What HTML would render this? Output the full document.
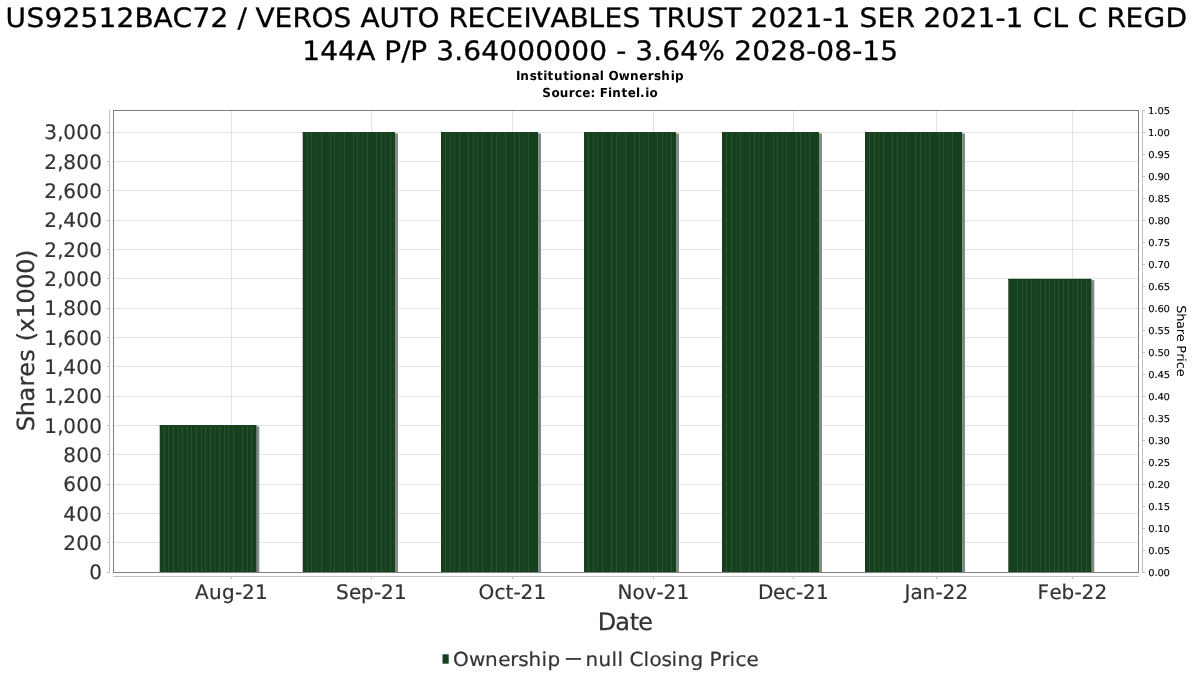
<!DOCTYPE html>
<html lang="en"><head><meta charset="utf-8"><title>US92512BAC72 / VEROS AUTO RECEIVABLES TRUST 2021-1 - Institutional Ownership</title>
<style>html,body{margin:0;padding:0;background:#fff;}body{width:1200px;height:675px;overflow:hidden;}svg{display:block;}text{font-family:"DejaVu Sans", "Liberation Sans", sans-serif;white-space:pre;text-rendering:geometricPrecision;}</style>
</head><body>
<svg width="1200" height="675" viewBox="0 0 1200 675" role="img" aria-label="Institutional ownership bar chart">
<rect x="0" y="0" width="1200" height="675" fill="#ffffff"/>
<text transform="translate(5.47,26.75) scale(1,0.95)" x="0.00 21.00 39.00 57.00 75.00 93.00 111.00 129.00 148.00 167.00 187.00 205.00 223.00 232.00 241.00 250.00 269.00 287.00 306.00 328.00 346.00 355.00 374.00 395.00 412.00 434.00 443.00 462.00 480.00 500.00 518.00 526.00 545.00 564.00 583.00 599.00 617.00 635.00 644.00 661.00 680.00 701.00 719.00 736.00 745.00 763.00 781.00 799.00 817.00 827.00 845.00 854.00 872.00 890.00 909.00 918.00 936.00 954.00 972.00 990.00 1000.00 1018.00 1027.00 1047.00 1063.00 1072.00 1092.00 1101.00 1120.00 1138.00 1160.00" y="0" font-size="28" fill="#000" stroke="#000" stroke-width="0.35">US92512BAC72 / VEROS AUTO RECEIVABLES TRUST 2021-1 SER 2021-1 CL C REGD</text>
<text transform="translate(302.32,59.75) scale(1,0.95)" x="0.00 18.00 36.00 54.00 73.00 82.00 99.00 108.00 125.00 134.00 152.00 161.00 179.00 197.00 215.00 233.00 251.00 269.00 287.00 305.00 314.00 324.00 333.00 351.00 360.00 378.00 396.00 423.00 432.00 450.00 468.00 486.00 504.00 514.00 532.00 550.00 560.00 578.00" y="0" font-size="28" fill="#000" stroke="#000" stroke-width="0.35">144A P/P 3.64000000 - 3.64% 2028-08-15</text>
<text transform="translate(516.00,80.20) scale(1,1.04)" x="0.00 4.32 13.63 20.95 27.26 31.58 37.89 47.21 53.52 57.84 66.15 75.47 83.79 88.10 92.42 102.73 114.05 123.36 131.68 137.99 145.31 154.63 158.94" y="0" font-size="12" fill="#000" font-weight="bold">Institutional Ownership</text>
<text transform="translate(542.24,96.80) scale(1,1.04)" x="0.00 9.20 17.41 26.61 32.82 40.02 48.23 53.43 57.64 65.84 70.05 79.25 85.46 93.66 97.87 103.07 107.28" y="0" font-size="12" fill="#000" font-weight="bold">Source: Fintel.io</text>
<g fill="#e2e2e2">
<rect x="114" y="542" width="1024" height="1"/>
<rect x="114" y="513" width="1024" height="1"/>
<rect x="114" y="484" width="1024" height="1"/>
<rect x="114" y="454" width="1024" height="1"/>
<rect x="114" y="425" width="1024" height="1"/>
<rect x="114" y="396" width="1024" height="1"/>
<rect x="114" y="366" width="1024" height="1"/>
<rect x="114" y="337" width="1024" height="1"/>
<rect x="114" y="308" width="1024" height="1"/>
<rect x="114" y="278" width="1024" height="1"/>
<rect x="114" y="249" width="1024" height="1"/>
<rect x="114" y="220" width="1024" height="1"/>
<rect x="114" y="190" width="1024" height="1"/>
<rect x="114" y="161" width="1024" height="1"/>
<rect x="114" y="132" width="1024" height="1"/>
<rect x="231" y="111" width="1" height="461"/>
<rect x="371" y="111" width="1" height="461"/>
<rect x="512" y="111" width="1" height="461"/>
<rect x="653" y="111" width="1" height="461"/>
<rect x="793" y="111" width="1" height="461"/>
<rect x="936" y="111" width="1" height="461"/>
<rect x="1072" y="111" width="1" height="461"/>
</g>
<rect x="255.3" y="426.4" width="4" height="145.6" fill="#888888"/>
<rect x="159.7" y="425.1" width="96.6" height="147.2" fill="#16411f"/>
<rect x="159.7" y="425.4" width="96.6" height="1" fill="#0f3c18"/>
<g fill="#295133">
<rect x="164" y="425.5" width="1" height="146.5"/>
<rect x="168" y="425.5" width="1" height="146.5"/>
<rect x="173" y="425.5" width="1" height="146.5"/>
<rect x="178" y="425.5" width="1" height="146.5" fill="#1e4728"/>
<rect x="182" y="425.5" width="1" height="146.5"/>
<rect x="187" y="425.5" width="1" height="146.5"/>
<rect x="191" y="425.5" width="1" height="146.5"/>
<rect x="196" y="425.5" width="1" height="146.5"/>
<rect x="201" y="425.5" width="1" height="146.5"/>
<rect x="205" y="425.5" width="1" height="146.5"/>
<rect x="210" y="425.5" width="1" height="146.5"/>
<rect x="215" y="425.5" width="1" height="146.5" fill="#1e4728"/>
<rect x="219" y="425.5" width="1" height="146.5"/>
<rect x="224" y="425.5" width="1" height="146.5"/>
<rect x="228" y="425.5" width="1" height="146.5"/>
<rect x="233" y="425.5" width="1" height="146.5"/>
<rect x="242" y="425.5" width="1" height="146.5"/>
<rect x="247" y="425.5" width="1" height="146.5"/>
<rect x="251" y="425.5" width="1" height="146.5"/>
</g>
<rect x="394" y="133.45" width="4" height="438.55" fill="#888888"/>
<rect x="302.7" y="132.15" width="92.3" height="440.15" fill="#16411f"/>
<rect x="302.7" y="132.45" width="92.3" height="1" fill="#0f3c18"/>
<g fill="#295133">
<rect x="307" y="132.55" width="1" height="439.45"/>
<rect x="311" y="132.55" width="1" height="439.45"/>
<rect x="316" y="132.55" width="1" height="439.45" fill="#1e4728"/>
<rect x="321" y="132.55" width="1" height="439.45"/>
<rect x="330" y="132.55" width="1" height="439.45"/>
<rect x="334" y="132.55" width="1" height="439.45"/>
<rect x="339" y="132.55" width="1" height="439.45" fill="#1e4728"/>
<rect x="344" y="132.55" width="1" height="439.45"/>
<rect x="353" y="132.55" width="1" height="439.45"/>
<rect x="357" y="132.55" width="1" height="439.45"/>
<rect x="362" y="132.55" width="1" height="439.45" fill="#1e4728"/>
<rect x="367" y="132.55" width="1" height="439.45"/>
<rect x="376" y="132.55" width="1" height="439.45"/>
<rect x="381" y="132.55" width="1" height="439.45"/>
<rect x="385" y="132.55" width="1" height="439.45" fill="#1e4728"/>
<rect x="390" y="132.55" width="1" height="439.45"/>
</g>
<rect x="537" y="133.45" width="4" height="438.55" fill="#888888"/>
<rect x="441" y="132.15" width="97" height="440.15" fill="#16411f"/>
<rect x="441" y="132.45" width="97" height="1" fill="#0f3c18"/>
<g fill="#295133">
<rect x="445" y="132.55" width="1" height="439.45"/>
<rect x="450" y="132.55" width="1" height="439.45"/>
<rect x="454" y="132.55" width="1" height="439.45" fill="#1e4728"/>
<rect x="459" y="132.55" width="1" height="439.45"/>
<rect x="468" y="132.55" width="1" height="439.45"/>
<rect x="473" y="132.55" width="1" height="439.45"/>
<rect x="477" y="132.55" width="1" height="439.45" fill="#1e4728"/>
<rect x="482" y="132.55" width="1" height="439.45"/>
<rect x="491" y="132.55" width="1" height="439.45"/>
<rect x="496" y="132.55" width="1" height="439.45"/>
<rect x="500" y="132.55" width="1" height="439.45" fill="#1e4728"/>
<rect x="505" y="132.55" width="1" height="439.45"/>
<rect x="514" y="132.55" width="1" height="439.45"/>
<rect x="519" y="132.55" width="1" height="439.45"/>
<rect x="523" y="132.55" width="1" height="439.45" fill="#1e4728"/>
<rect x="528" y="132.55" width="1" height="439.45"/>
</g>
<rect x="675" y="133.45" width="4" height="438.55" fill="#888888"/>
<rect x="584" y="132.15" width="92" height="440.15" fill="#16411f"/>
<rect x="584" y="132.45" width="92" height="1" fill="#0f3c18"/>
<g fill="#295133">
<rect x="588" y="132.55" width="1" height="439.45"/>
<rect x="593" y="132.55" width="1" height="439.45"/>
<rect x="597" y="132.55" width="1" height="439.45" fill="#1e4728"/>
<rect x="602" y="132.55" width="1" height="439.45"/>
<rect x="611" y="132.55" width="1" height="439.45"/>
<rect x="616" y="132.55" width="1" height="439.45"/>
<rect x="620" y="132.55" width="1" height="439.45" fill="#1e4728"/>
<rect x="625" y="132.55" width="1" height="439.45"/>
<rect x="634" y="132.55" width="1" height="439.45"/>
<rect x="639" y="132.55" width="1" height="439.45"/>
<rect x="643" y="132.55" width="1" height="439.45" fill="#1e4728"/>
<rect x="648" y="132.55" width="1" height="439.45"/>
<rect x="657" y="132.55" width="1" height="439.45"/>
<rect x="662" y="132.55" width="1" height="439.45"/>
<rect x="666" y="132.55" width="1" height="439.45" fill="#1e4728"/>
<rect x="671" y="132.55" width="1" height="439.45"/>
</g>
<rect x="818" y="133.45" width="4" height="438.55" fill="#888888"/>
<rect x="722" y="132.15" width="97" height="440.15" fill="#16411f"/>
<rect x="722" y="132.45" width="97" height="1" fill="#0f3c18"/>
<g fill="#295133">
<rect x="726" y="132.55" width="1" height="439.45"/>
<rect x="731" y="132.55" width="1" height="439.45"/>
<rect x="736" y="132.55" width="1" height="439.45" fill="#1e4728"/>
<rect x="740" y="132.55" width="1" height="439.45"/>
<rect x="749" y="132.55" width="1" height="439.45"/>
<rect x="754" y="132.55" width="1" height="439.45"/>
<rect x="759" y="132.55" width="1" height="439.45" fill="#1e4728"/>
<rect x="763" y="132.55" width="1" height="439.45"/>
<rect x="773" y="132.55" width="1" height="439.45"/>
<rect x="777" y="132.55" width="1" height="439.45"/>
<rect x="782" y="132.55" width="1" height="439.45" fill="#1e4728"/>
<rect x="786" y="132.55" width="1" height="439.45"/>
<rect x="796" y="132.55" width="1" height="439.45"/>
<rect x="800" y="132.55" width="1" height="439.45"/>
<rect x="805" y="132.55" width="1" height="439.45" fill="#1e4728"/>
<rect x="809" y="132.55" width="1" height="439.45"/>
</g>
<rect x="961" y="133.45" width="4" height="438.55" fill="#888888"/>
<rect x="865" y="132.15" width="97" height="440.15" fill="#16411f"/>
<rect x="865" y="132.45" width="97" height="1" fill="#0f3c18"/>
<g fill="#295133">
<rect x="869" y="132.55" width="1" height="439.45"/>
<rect x="874" y="132.55" width="1" height="439.45"/>
<rect x="879" y="132.55" width="1" height="439.45" fill="#1e4728"/>
<rect x="883" y="132.55" width="1" height="439.45"/>
<rect x="892" y="132.55" width="1" height="439.45"/>
<rect x="897" y="132.55" width="1" height="439.45"/>
<rect x="902" y="132.55" width="1" height="439.45" fill="#1e4728"/>
<rect x="906" y="132.55" width="1" height="439.45"/>
<rect x="915" y="132.55" width="1" height="439.45"/>
<rect x="920" y="132.55" width="1" height="439.45"/>
<rect x="925" y="132.55" width="1" height="439.45" fill="#1e4728"/>
<rect x="929" y="132.55" width="1" height="439.45"/>
<rect x="939" y="132.55" width="1" height="439.45"/>
<rect x="943" y="132.55" width="1" height="439.45"/>
<rect x="948" y="132.55" width="1" height="439.45" fill="#1e4728"/>
<rect x="952" y="132.55" width="1" height="439.45"/>
</g>
<rect x="1090.3" y="280.1" width="4" height="291.9" fill="#888888"/>
<rect x="1008.3" y="278.8" width="83" height="293.5" fill="#16411f"/>
<rect x="1008.3" y="279.1" width="83" height="1" fill="#0f3c18"/>
<g fill="#295133">
<rect x="1017" y="279.2" width="1" height="292.8"/>
<rect x="1022" y="279.2" width="1" height="292.8"/>
<rect x="1026" y="279.2" width="1" height="292.8"/>
<rect x="1031" y="279.2" width="1" height="292.8"/>
<rect x="1035" y="279.2" width="1" height="292.8" fill="#1e4728"/>
<rect x="1040" y="279.2" width="1" height="292.8"/>
<rect x="1045" y="279.2" width="1" height="292.8"/>
<rect x="1049" y="279.2" width="1" height="292.8"/>
<rect x="1054" y="279.2" width="1" height="292.8"/>
<rect x="1058" y="279.2" width="1" height="292.8"/>
<rect x="1063" y="279.2" width="1" height="292.8"/>
<rect x="1068" y="279.2" width="1" height="292.8"/>
<rect x="1072" y="279.2" width="1" height="292.8" fill="#1e4728"/>
<rect x="1077" y="279.2" width="1" height="292.8"/>
<rect x="1081" y="279.2" width="1" height="292.8"/>
<rect x="1086" y="279.2" width="1" height="292.8"/>
</g>
<rect x="113.5" y="110.5" width="1025" height="462" fill="none" stroke="#7f7f7f" stroke-width="1"/>
<g fill="#c0c0c0">
<rect x="109" y="110" width="1" height="463"/>
<rect x="113" y="576" width="1026" height="1"/>
<rect x="1142" y="110" width="1" height="463"/>
<rect x="107" y="572" width="2" height="1"/>
<rect x="107" y="542" width="2" height="1"/>
<rect x="107" y="513" width="2" height="1"/>
<rect x="107" y="484" width="2" height="1"/>
<rect x="107" y="454" width="2" height="1"/>
<rect x="107" y="425" width="2" height="1"/>
<rect x="107" y="396" width="2" height="1"/>
<rect x="107" y="366" width="2" height="1"/>
<rect x="107" y="337" width="2" height="1"/>
<rect x="107" y="308" width="2" height="1"/>
<rect x="107" y="278" width="2" height="1"/>
<rect x="107" y="249" width="2" height="1"/>
<rect x="107" y="220" width="2" height="1"/>
<rect x="107" y="190" width="2" height="1"/>
<rect x="107" y="161" width="2" height="1"/>
<rect x="107" y="132" width="2" height="1"/>
<rect x="231" y="577" width="1" height="2"/>
<rect x="371" y="577" width="1" height="2"/>
<rect x="512" y="577" width="1" height="2"/>
<rect x="653" y="577" width="1" height="2"/>
<rect x="793" y="577" width="1" height="2"/>
<rect x="936" y="577" width="1" height="2"/>
<rect x="1072" y="577" width="1" height="2"/>
<rect x="1143" y="572" width="2" height="1"/>
<rect x="1143" y="550" width="2" height="1"/>
<rect x="1143" y="528" width="2" height="1"/>
<rect x="1143" y="506" width="2" height="1"/>
<rect x="1143" y="484" width="2" height="1"/>
<rect x="1143" y="462" width="2" height="1"/>
<rect x="1143" y="440" width="2" height="1"/>
<rect x="1143" y="418" width="2" height="1"/>
<rect x="1143" y="396" width="2" height="1"/>
<rect x="1143" y="374" width="2" height="1"/>
<rect x="1143" y="352" width="2" height="1"/>
<rect x="1143" y="330" width="2" height="1"/>
<rect x="1143" y="308" width="2" height="1"/>
<rect x="1143" y="286" width="2" height="1"/>
<rect x="1143" y="264" width="2" height="1"/>
<rect x="1143" y="242" width="2" height="1"/>
<rect x="1143" y="220" width="2" height="1"/>
<rect x="1143" y="198" width="2" height="1"/>
<rect x="1143" y="176" width="2" height="1"/>
<rect x="1143" y="154" width="2" height="1"/>
<rect x="1143" y="132" width="2" height="1"/>
<rect x="1143" y="110" width="2" height="1"/>
</g>
<text transform="translate(89.33,578.70)" x="0.00" y="0" font-size="20" fill="#333333" stroke="#333333" stroke-width="0.2">0</text>
<text transform="translate(63.33,549.70)" x="0.00 13.00 26.00" y="0" font-size="20" fill="#333333" stroke="#333333" stroke-width="0.2">200</text>
<text transform="translate(63.33,520.70)" x="0.00 13.00 26.00" y="0" font-size="20" fill="#333333" stroke="#333333" stroke-width="0.2">400</text>
<text transform="translate(63.33,490.70)" x="0.00 13.00 26.00" y="0" font-size="20" fill="#333333" stroke="#333333" stroke-width="0.2">600</text>
<text transform="translate(63.33,461.70)" x="0.00 13.00 26.00" y="0" font-size="20" fill="#333333" stroke="#333333" stroke-width="0.2">800</text>
<text transform="translate(44.33,432.70)" x="0.00 13.00 19.00 32.00 45.00" y="0" font-size="20" fill="#333333" stroke="#333333" stroke-width="0.2">1,000</text>
<text transform="translate(44.33,402.70)" x="0.00 13.00 19.00 32.00 45.00" y="0" font-size="20" fill="#333333" stroke="#333333" stroke-width="0.2">1,200</text>
<text transform="translate(44.33,373.70)" x="0.00 13.00 19.00 32.00 45.00" y="0" font-size="20" fill="#333333" stroke="#333333" stroke-width="0.2">1,400</text>
<text transform="translate(44.33,344.70)" x="0.00 13.00 19.00 32.00 45.00" y="0" font-size="20" fill="#333333" stroke="#333333" stroke-width="0.2">1,600</text>
<text transform="translate(44.33,314.70)" x="0.00 13.00 19.00 32.00 45.00" y="0" font-size="20" fill="#333333" stroke="#333333" stroke-width="0.2">1,800</text>
<text transform="translate(44.33,285.70)" x="0.00 13.00 19.00 32.00 45.00" y="0" font-size="20" fill="#333333" stroke="#333333" stroke-width="0.2">2,000</text>
<text transform="translate(44.33,256.70)" x="0.00 13.00 19.00 32.00 45.00" y="0" font-size="20" fill="#333333" stroke="#333333" stroke-width="0.2">2,200</text>
<text transform="translate(44.33,226.70)" x="0.00 13.00 19.00 32.00 45.00" y="0" font-size="20" fill="#333333" stroke="#333333" stroke-width="0.2">2,400</text>
<text transform="translate(44.33,197.70)" x="0.00 13.00 19.00 32.00 45.00" y="0" font-size="20" fill="#333333" stroke="#333333" stroke-width="0.2">2,600</text>
<text transform="translate(44.33,168.70)" x="0.00 13.00 19.00 32.00 45.00" y="0" font-size="20" fill="#333333" stroke="#333333" stroke-width="0.2">2,800</text>
<text transform="translate(44.33,138.70)" x="0.00 13.00 19.00 32.00 45.00" y="0" font-size="20" fill="#333333" stroke="#333333" stroke-width="0.2">3,000</text>
<text transform="translate(195.00,598.90)" x="0.00 14.00 27.00 40.00 47.00 60.00" y="0" font-size="20" fill="#333333" stroke="#333333" stroke-width="0.2">Aug-21</text>
<text transform="translate(336.00,598.90)" x="0.00 13.00 25.00 38.00 45.00 58.00" y="0" font-size="20" fill="#333333" stroke="#333333" stroke-width="0.2">Sep-21</text>
<text transform="translate(478.50,598.90)" x="0.00 16.00 27.00 35.00 42.00 55.00" y="0" font-size="20" fill="#333333" stroke="#333333" stroke-width="0.2">Oct-21</text>
<text transform="translate(617.50,598.90)" x="0.00 15.00 27.00 39.00 46.00 59.00" y="0" font-size="20" fill="#333333" stroke="#333333" stroke-width="0.2">Nov-21</text>
<text transform="translate(758.00,598.90)" x="0.00 15.00 27.00 38.00 45.00 58.00" y="0" font-size="20" fill="#333333" stroke="#333333" stroke-width="0.2">Dec-21</text>
<text transform="translate(904.50,598.90)" x="0.00 6.00 18.00 31.00 38.00 51.00" y="0" font-size="20" fill="#333333" stroke="#333333" stroke-width="0.2">Jan-22</text>
<text transform="translate(1037.50,598.90)" x="0.00 12.00 24.00 37.00 44.00 57.00" y="0" font-size="20" fill="#333333" stroke="#333333" stroke-width="0.2">Feb-22</text>
<text transform="translate(1148.34,576.00) scale(1,0.95)" x="0.00 6.07 9.15 15.22" y="0" font-size="10" fill="#000" stroke="#000" stroke-width="0.12">0.00</text>
<text transform="translate(1148.34,554.00) scale(1,0.95)" x="0.00 6.14 9.29 15.43" y="0" font-size="10" fill="#000" stroke="#000" stroke-width="0.12">0.05</text>
<text transform="translate(1148.34,532.00) scale(1,0.95)" x="0.00 6.07 9.15 15.22" y="0" font-size="10" fill="#000" stroke="#000" stroke-width="0.12">0.10</text>
<text transform="translate(1148.34,510.00) scale(1,0.95)" x="0.00 6.14 9.29 15.43" y="0" font-size="10" fill="#000" stroke="#000" stroke-width="0.12">0.15</text>
<text transform="translate(1148.34,488.00) scale(1,0.95)" x="0.00 6.07 9.15 15.22" y="0" font-size="10" fill="#000" stroke="#000" stroke-width="0.12">0.20</text>
<text transform="translate(1148.34,466.00) scale(1,0.95)" x="0.00 6.14 9.29 15.43" y="0" font-size="10" fill="#000" stroke="#000" stroke-width="0.12">0.25</text>
<text transform="translate(1148.34,444.00) scale(1,0.95)" x="0.00 6.07 9.15 15.22" y="0" font-size="10" fill="#000" stroke="#000" stroke-width="0.12">0.30</text>
<text transform="translate(1148.34,422.00) scale(1,0.95)" x="0.00 6.14 9.29 15.43" y="0" font-size="10" fill="#000" stroke="#000" stroke-width="0.12">0.35</text>
<text transform="translate(1148.34,400.00) scale(1,0.95)" x="0.00 6.07 9.15 15.22" y="0" font-size="10" fill="#000" stroke="#000" stroke-width="0.12">0.40</text>
<text transform="translate(1148.34,378.00) scale(1,0.95)" x="0.00 6.14 9.29 15.43" y="0" font-size="10" fill="#000" stroke="#000" stroke-width="0.12">0.45</text>
<text transform="translate(1148.34,356.00) scale(1,0.95)" x="0.00 6.07 9.15 15.22" y="0" font-size="10" fill="#000" stroke="#000" stroke-width="0.12">0.50</text>
<text transform="translate(1148.34,334.00) scale(1,0.95)" x="0.00 6.14 9.29 15.43" y="0" font-size="10" fill="#000" stroke="#000" stroke-width="0.12">0.55</text>
<text transform="translate(1148.34,312.00) scale(1,0.95)" x="0.00 6.07 9.15 15.22" y="0" font-size="10" fill="#000" stroke="#000" stroke-width="0.12">0.60</text>
<text transform="translate(1148.34,290.00) scale(1,0.95)" x="0.00 6.14 9.29 15.43" y="0" font-size="10" fill="#000" stroke="#000" stroke-width="0.12">0.65</text>
<text transform="translate(1148.34,268.00) scale(1,0.95)" x="0.00 6.07 9.15 15.22" y="0" font-size="10" fill="#000" stroke="#000" stroke-width="0.12">0.70</text>
<text transform="translate(1148.34,246.00) scale(1,0.95)" x="0.00 6.14 9.29 15.43" y="0" font-size="10" fill="#000" stroke="#000" stroke-width="0.12">0.75</text>
<text transform="translate(1148.34,224.00) scale(1,0.95)" x="0.00 6.07 9.15 15.22" y="0" font-size="10" fill="#000" stroke="#000" stroke-width="0.12">0.80</text>
<text transform="translate(1148.34,202.00) scale(1,0.95)" x="0.00 6.14 9.29 15.43" y="0" font-size="10" fill="#000" stroke="#000" stroke-width="0.12">0.85</text>
<text transform="translate(1148.34,180.00) scale(1,0.95)" x="0.00 6.07 9.15 15.22" y="0" font-size="10" fill="#000" stroke="#000" stroke-width="0.12">0.90</text>
<text transform="translate(1148.34,158.00) scale(1,0.95)" x="0.00 6.14 9.29 15.43" y="0" font-size="10" fill="#000" stroke="#000" stroke-width="0.12">0.95</text>
<text transform="translate(1147.90,136.00) scale(1,0.95)" x="0.00 6.22 9.44 15.66" y="0" font-size="10" fill="#000" stroke="#000" stroke-width="0.12">1.00</text>
<text transform="translate(1147.90,114.00) scale(1,0.95)" x="0.00 6.29 9.58 15.87" y="0" font-size="10" fill="#000" stroke="#000" stroke-width="0.12">1.05</text>
<text transform="translate(597.64,630.00)" x="0.00 17.54 32.09 40.63" y="0" font-size="24" fill="#333333" stroke="#333333" stroke-width="0.25">Date</text>
<text transform="translate(34.10,431.18) rotate(-90) scale(1,0.98)" x="0.00 14.86 29.73 44.59 54.46 69.32 82.19 90.05 98.92 112.78 127.65 142.51 157.38 172.24" y="0" font-size="24" fill="#333333" stroke="#333333" stroke-width="0.25">Shares (x1000)</text>
<text transform="translate(1176.60,305.34) rotate(90) scale(1,0.95)" x="0.00 7.83 15.67 23.50 28.34 36.17 40.01 47.84 52.68 56.51 63.35" y="0" font-size="13" fill="#000">Share Price</text>
<rect x="442.5" y="654.3" width="6.2" height="9.4" fill="#16411f"/>
<text transform="translate(452.98,666.05) scale(1,0.97)" x="0.00 16.08 32.15 45.23 57.31 65.39 75.46 88.54 94.62" y="0" font-size="20" fill="#333333" stroke="#333333" stroke-width="0.2">Ownership</text>
<rect x="565.8" y="658.05" width="15.2" height="1.75" fill="#333333"/>
<text transform="translate(585.48,666.05) scale(1,0.97)" x="0.00 13.00 26.00 32.00 38.00 44.00 58.00 64.00 76.00 86.00 92.00 105.00 118.00 124.00 136.00 144.00 150.00 161.00" y="0" font-size="20" fill="#333333" stroke="#333333" stroke-width="0.2">null Closing Price</text>
</svg>
</body></html>
